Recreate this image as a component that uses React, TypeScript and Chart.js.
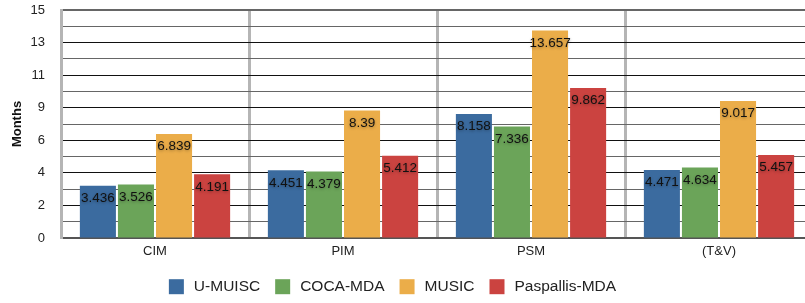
import { useEffect, useRef } from 'react';
import { Chart, registerables } from 'chart.js';

Chart.register(...registerables);

const categories = ['CIM', 'PIM', 'PSM', '(T&V)'];
const uMuisc = [3.436, 4.451, 8.158, 4.471];
const cocaMda = [3.526, 4.379, 7.336, 4.634];
const music = [6.839, 8.39, 13.657, 9.017];
const paspallisMda = [4.191, 5.412, 9.862, 5.457];
const seriesNames = ['U-MUISC', 'COCA-MDA', 'MUSIC', 'Paspallis-MDA'];
const seriesColors = ['#3b6b9f', '#6ba459', '#ebad49', '#cb4340'];
const yTickLabels = ['0', '', '2', '', '4', '', '6', '', '9', '', '11', '', '13', '', '15'];
const yMax = 15;
const yTitle = 'Months';

const FONT = '"Liberation Sans", Arial, Helvetica, sans-serif';

const valueLabels = {
  id: 'valueLabels',
  afterDatasetsDraw(chart: any) {
    const ctx = chart.ctx;
    ctx.save();
    ctx.font = `13.5px ${FONT}`;
    ctx.textAlign = 'center';
    ctx.textBaseline = 'middle';
    ctx.fillStyle = '#111';
    ctx.shadowColor = 'rgba(0,0,0,0.35)';
    ctx.shadowBlur = 3;
    ctx.shadowOffsetY = 1;
    chart.data.datasets.forEach((ds: any, di: number) => {
      const meta = chart.getDatasetMeta(di);
      meta.data.forEach((bar: any, i: number) => {
        ctx.fillText(String(ds.data[i]), bar.x, bar.y + 12.5);
      });
    });
    ctx.restore();
  },
};

const customLegend = {
  id: 'customLegend',
  afterDraw(chart: any) {
    const ctx = chart.ctx;
    ctx.save();
    ctx.font = `15.5px ${FONT}`;
    ctx.textBaseline = 'middle';
    ctx.textAlign = 'left';
    const box = 15;
    const gapText = 10;
    const gapItem = 15;
    const widths = seriesNames.map((n) => ctx.measureText(n).width);
    const total = widths.reduce((a, w) => a + box + gapText + w, 0) + gapItem * (seriesNames.length - 1);
    let x = 392.5 - total / 2;
    const cy = 286.7;
    seriesNames.forEach((n, i) => {
      ctx.fillStyle = seriesColors[i];
      ctx.fillRect(x, cy - box / 2, box, box);
      x += box + gapText;
      ctx.fillStyle = '#222';
      ctx.fillText(n, x, cy + 0.5);
      x += widths[i] + gapItem;
    });
    ctx.restore();
  },
};

export default function App() {
  const ref = useRef<HTMLCanvasElement>(null);
  useEffect(() => {
    if (!ref.current) return;
    Chart.defaults.font.family = FONT;
    const seriesData = [uMuisc, cocaMda, music, paspallisMda];
    const chart = new Chart(ref.current, {
      type: 'bar',
      data: {
        labels: categories,
        datasets: seriesNames.map((name, i) => ({
          label: name,
          data: seriesData[i],
          backgroundColor: seriesColors[i],
          borderWidth: 0,
          categoryPercentage: 0.81,
          barPercentage: 0.947,
        })),
      },
      options: {
        animation: false,
        responsive: true,
        maintainAspectRatio: false,
        layout: { padding: { top: 10, bottom: 40, left: 0, right: 0 } },
        plugins: {
          legend: { display: false },
          tooltip: { enabled: false },
        },
        scales: {
          x: {
            offset: true,
            grid: {
              offset: true,
              color: '#b5b5b5',
              lineWidth: 3,
              drawTicks: false,
            },
            border: { color: '#555', width: 2 },
            ticks: { color: '#222', font: { size: 13 }, padding: 6 },
            afterFit(scale: any) {
              scale.height = 25;
              scale.paddingLeft = 0;
              scale.paddingRight = 0;
            },
          },
          y: {
            min: 0,
            max: yMax,
            afterBuildTicks(scale: any) {
              scale.ticks = yTickLabels.map((_, i) => ({ value: (i * yMax) / (yTickLabels.length - 1) }));
            },
            afterFit(scale: any) {
              scale.width = 61;
              scale.paddingTop = 0;
              scale.paddingBottom = 0;
            },
            grid: {
              drawTicks: false,
              color: (c: any) => (c.index === yTickLabels.length - 1 ? '#666' : c.index % 2 === 0 ? '#111' : '#666'),
              lineWidth: (c: any) => (c.index === yTickLabels.length - 1 ? 2 : 1),
            },
            border: { color: '#b5b5b5', width: 3 },
            ticks: {
              autoSkip: false,
              color: '#222',
              font: { size: 13 },
              padding: 16,
              callback: (_v: any, i: number) => yTickLabels[i],
            },
            title: {
              display: true,
              text: yTitle,
              color: '#111',
              font: { size: 13, weight: 'bold' },
              padding: { top: 10, bottom: 0 },
            },
          },
        },
      },
      plugins: [valueLabels, customLegend],
    });
    return () => chart.destroy();
  }, []);
  return (
    <div style={{ position: 'absolute', left: 0, top: 0, width: 805, height: 303, overflow: 'hidden', background: '#fff' }}>
      <div style={{ position: 'relative', width: 813, height: 303 }}>
        <canvas ref={ref} />
      </div>
    </div>
  );
}
